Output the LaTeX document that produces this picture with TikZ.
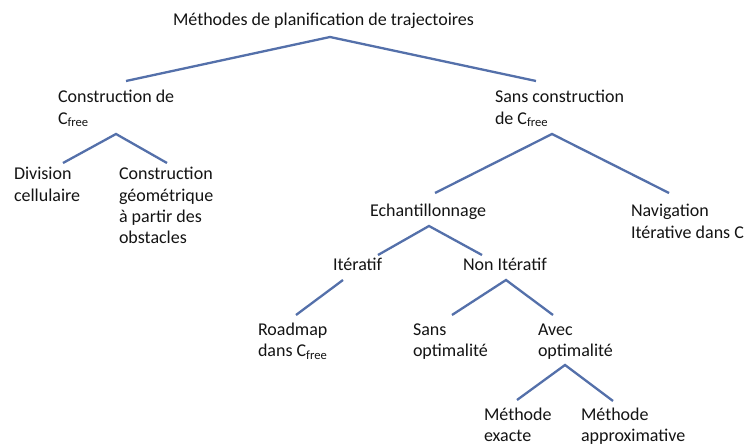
\documentclass[tikz,border=0pt]{standalone}
\usepackage{fontspec}
\setmainfont{Carlito}
\definecolor{linkblue}{RGB}{84,112,170}
\definecolor{txt}{RGB}{20,20,20}
\begin{document}
\begin{tikzpicture}[x=1pt,y=-1pt,
  lbl/.style={anchor=base west, inner sep=0pt, outer sep=0pt, align=left,
    font=\fontsize{18}{21.2}\selectfont, text=txt},
  link/.style={draw=linkblue, line width=2.3pt}]
\useasboundingbox[fill=white] (0,0) rectangle (748,446);
% nodes (anchor = baseline of the last line)
\node[lbl] (root)  at (173,26)    {Méthodes de planification de trajectoires};
\node[lbl] (cfree) at (58,124.2)  {Construction de\\C\textsubscript{free}};
\node[lbl] (sans)  at (495,124.2) {Sans construction\\de C\textsubscript{free}};
\node[lbl] (div)   at (14,201.2)  {Division\\cellulaire};
\node[lbl] (geo)   at (119,243.6) {Construction\\géométrique\\à partir des\\obstacles};
\node[lbl] (ech)   at (370,217)   {Echantillonnage};
\node[lbl] (nav)   at (631,238.2) {Navigation\\Itérative dans C};
\node[lbl] (it)    at (333,271)   {Itératif};
\node[lbl] (nonit) at (463,271)   {Non Itératif};
\node[lbl] (road)  at (258,357)   {Roadmap\\dans C\textsubscript{free}};
\node[lbl] (sopt)  at (413,357)   {Sans\\optimalité};
\node[lbl] (aopt)  at (538,357)   {Avec\\optimalité};
\node[lbl] (mex)   at (484,441.5) {Méthode\\exacte};
\node[lbl] (map)   at (581,441.5) {Méthode\\approximative};
% connector points
\coordinate (rootA) at (330,37);
\coordinate (cfreeT) at (126,81);
\coordinate (sansT) at (536,81);
\coordinate (cfreeA) at (116,134);
\coordinate (divT) at (63,163);
\coordinate (geoT) at (167,163);
\coordinate (sansA) at (552,134);
\coordinate (echT) at (435,193);
\coordinate (navT) at (669,193);
\coordinate (echA) at (429,226);
\coordinate (itT) at (378,255);
\coordinate (nonitT) at (482,255);
\coordinate (itA) at (343,280);
\coordinate (roadT) at (296,315);
\coordinate (nonitA) at (506,280);
\coordinate (soptT) at (452,315);
\coordinate (aoptT) at (553,315);
\coordinate (aoptA) at (565,365);
\coordinate (mexT) at (517,400);
\coordinate (mapT) at (613,401);
% connectors
\draw[link] (cfreeT) -- (rootA) -- (sansT);
\draw[link] (divT) -- (cfreeA) -- (geoT);
\draw[link] (echT) -- (sansA) -- (navT);
\draw[link] (itT) -- (echA) -- (nonitT);
\draw[link] (itA) -- (roadT);
\draw[link] (soptT) -- (nonitA) -- (aoptT);
\draw[link] (mexT) -- (aoptA) -- (mapT);
\end{tikzpicture}
\end{document}
